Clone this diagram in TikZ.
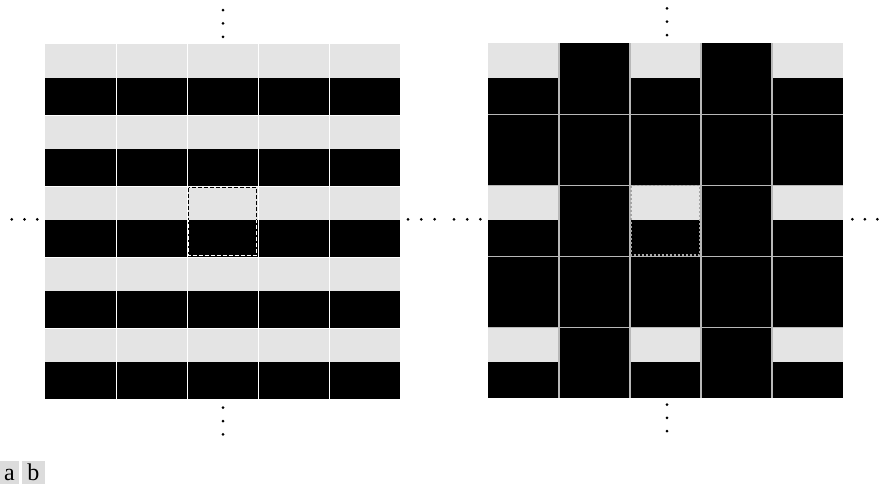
\documentclass[tikz,border=0pt]{standalone}
\usepackage{fontspec}
\setmainfont{Liberation Serif}
\usepackage{xcolor}
\definecolor{stripeLight}{HTML}{E4E4E4}
\definecolor{gridGray}{HTML}{B8B8B8}
\definecolor{dashGray}{HTML}{A4A4A4}
\definecolor{tagGray}{HTML}{DCDCDC}

\begin{document}
\begin{tikzpicture}[x=1pt,y=-1pt,
    vdot/.style={circle,fill=black,inner sep=0pt,minimum size=3pt},
    dashbox/.style={line width=0.8pt,dash pattern=on 4pt off 2pt},
    tag/.style={fill=tagGray,inner xsep=0pt,inner ysep=2.4pt,text height=16.6pt,
      text depth=1.5pt,font=\fontsize{24}{24}\selectfont}]
  \useasboundingbox (0,0) rectangle (887,488);
  % a: horizontal stripes
  \fill[black] (45,44) rectangle (400,399);
  \foreach \r in {0,...,4}
    \fill[stripeLight] (45,44+71*\r) rectangle (400,44+71*\r+34.4);
  \foreach \k in {1,...,4} {
    \draw[white,line width=1pt] (45+71*\k,44) -- (45+71*\k,399);
    \draw[white,line width=0.6pt] (45,44+71*\k) -- (400,44+71*\k);
  }
  \begin{scope}
    \clip (187,186) rectangle (258,220.4);
    \draw[dashbox,black] (188.5,187.5) rectangle (256.3,255.3);
  \end{scope}
  \begin{scope}
    \clip (187,220.4) rectangle (258,257);
    \draw[dashbox,white] (188.5,187.5) rectangle (256.3,255.3);
  \end{scope}
  % b: sampled pattern
  \fill[black] (488,43.3) rectangle (843,398.3);
  \foreach \r in {0,2,4}
    \foreach \c in {0,2,4}
      \fill[stripeLight] (488+71*\c,43.3+71*\r) rectangle (559+71*\c,43.3+71*\r+34.4);
  \foreach \k in {1,...,4} {
    \draw[gridGray,line width=1.2pt] (488+71*\k,43.3) -- (488+71*\k,398.3);
    \draw[gridGray,line width=1.2pt] (488,43.3+71*\k) -- (843,43.3+71*\k);
  }
  \draw[dashGray,line width=1.1pt,dash pattern=on 2.5pt off 1.5pt] (631,185.7) rectangle (699.7,255);
  % continuation dots
  \foreach \d in {0,1,2} {
    \node[vdot] (aN\d) at (223,10+13.4*\d) {};
    \node[vdot] (aS\d) at (223,407.7+13.3*\d) {};
    \node[vdot] (aW\d) at (11.7+12.8*\d,219.3) {};
    \node[vdot] (aE\d) at (408+13.3*\d,219.3) {};
    \node[vdot] (bN\d) at (667,8.3+13.4*\d) {};
    \node[vdot] (bS\d) at (667,404.7+13.2*\d) {};
    \node[vdot] (bW\d) at (454+13.2*\d,219.3) {};
    \node[vdot] (bE\d) at (852.3+12.5*\d,219.3) {};
  }
  \node[tag,minimum width=18.3pt,anchor=north west] (taga) at (0,461) {a};
  \node[tag,minimum width=23.7pt,anchor=north west] (tagb) at (21.3,461) {b};
\end{tikzpicture}
\end{document}
